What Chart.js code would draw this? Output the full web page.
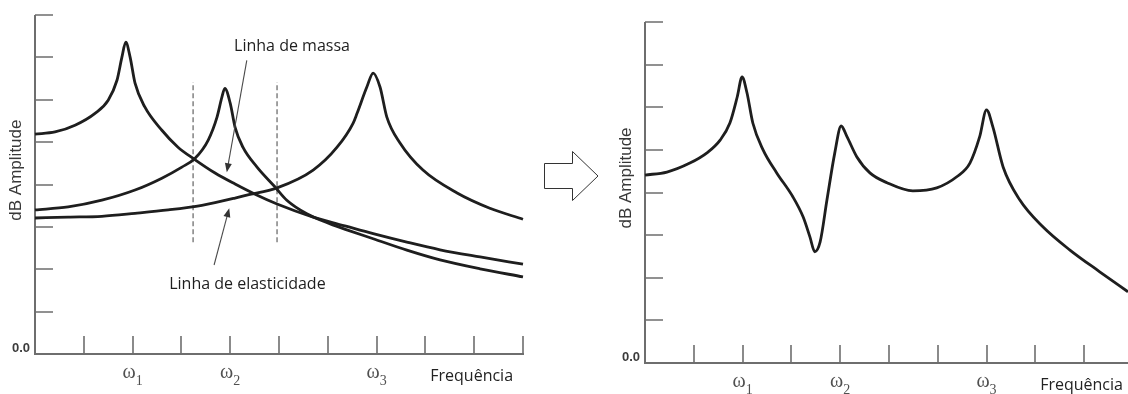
<!DOCTYPE html>
<html>
<head>
<meta charset="utf-8">
<script src="https://cdn.jsdelivr.net/npm/chart.js@4.4.1/dist/chart.umd.min.js"></script>
<style>
  html, body { margin: 0; padding: 0; background: #fff; }
  #wrap { position: relative; width: 1128px; height: 394px; overflow: hidden; }
  canvas { position: absolute; top: 0; }
</style>
</head>
<body>
<div id="wrap">
  <canvas id="left" width="605" height="394" style="left:0"></canvas>
  <canvas id="right" width="523" height="394" style="left:605px"></canvas>
</div>
<script>
// Left chart: single-mode responses
const mode1X = [0, 0.41, 0.82, 1.23, 1.50, 1.68, 1.78, 1.86, 1.95, 2.05, 2.25, 2.60, 2.93, 3.26, 3.69, 4.10, 4.51, 4.96, 5.70, 6.39, 6.93, 7.62, 8.30, 9.12, 10];
const mode1Y = [5.19, 5.24, 5.40, 5.68, 5.99, 6.46, 7.00, 7.36, 7.00, 6.39, 5.83, 5.28, 4.88, 4.60, 4.27, 4.01, 3.77, 3.54, 3.23, 3.01, 2.84, 2.64, 2.46, 2.29, 2.12];

const mode2X = [0, 0.68, 1.37, 2.05, 2.60, 3.01, 3.28, 3.55, 3.73, 3.83, 3.89, 4.00, 4.10, 4.26, 4.55, 4.92, 5.16, 5.57, 6.05, 6.39, 6.93, 7.62, 8.30, 9.12, 10];
const mode2Y = [3.40, 3.47, 3.63, 3.87, 4.15, 4.41, 4.62, 5.05, 5.59, 6.06, 6.27, 5.92, 5.35, 4.88, 4.41, 3.94, 3.63, 3.31, 3.07, 2.93, 2.72, 2.45, 2.22, 2.01, 1.82];

const mode3X = [0, 0.68, 1.37, 2.05, 2.73, 3.42, 4.10, 4.34, 4.96, 5.70, 6.19, 6.52, 6.60, 6.80, 6.93, 7.07, 7.21, 7.48, 7.95, 8.65, 9.32, 10];
const mode3Y = [3.21, 3.23, 3.25, 3.32, 3.40, 3.51, 3.68, 3.75, 3.92, 4.34, 4.88, 5.45, 5.68, 6.30, 6.63, 6.30, 5.59, 4.98, 4.34, 3.80, 3.44, 3.18];

// dashed markers on the left chart
const dashX = [3.24, 4.96];
const dashY = [2.64, 6.42];

// Right chart: combined response
const sumX = [0, 0.45, 0.92, 1.27, 1.54, 1.74, 1.89, 1.99, 2.09, 2.21, 2.42, 2.70, 3.03, 3.24, 3.38, 3.48, 3.59, 3.73, 3.89, 4.02, 4.14, 4.34, 4.61, 4.96, 5.49, 5.98, 6.39, 6.66, 6.86, 7.00, 7.13, 7.34, 7.68, 8.16, 8.71, 9.32, 9.90];
const sumY = [4.41, 4.48, 4.69, 4.93, 5.23, 5.63, 6.24, 6.71, 6.34, 5.63, 5.00, 4.46, 3.90, 3.43, 2.96, 2.61, 2.84, 3.83, 4.93, 5.56, 5.31, 4.84, 4.46, 4.23, 4.04, 4.11, 4.37, 4.69, 5.31, 5.94, 5.54, 4.60, 3.83, 3.19, 2.65, 2.14, 1.67];

// axis labels
const omegaTicks = [2, 4, 7];
const omegaSubs = ['1', '2', '3'];
const zeroLabel = '0.0';
const xTitle = 'Frequência';
const yTitle = 'dB Amplitude';

const curveColor = '#1e1e1e';
const axisColor = '#6e6e6e';

function toPoints(xs, ys) {
  return xs.map((x, i) => ({ x: x, y: ys[i] }));
}

function curve(xs, ys) {
  return {
    data: toPoints(xs, ys),
    borderColor: curveColor,
    borderWidth: 2.8,
    pointRadius: 0,
    cubicInterpolationMode: 'monotone',
    clip: 6
  };
}

// Draws the axes with inward ticks, "0.0", omega labels and titles
function axesPlugin(xTickCount) {
  return {
    id: 'axes',
    beforeDatasetsDraw(chart) {
      const { ctx, chartArea: a, scales: { x, y } } = chart;
      ctx.save();
      ctx.strokeStyle = axisColor;
      ctx.lineWidth = 2;
      ctx.beginPath();
      ctx.moveTo(a.left, a.top);
      ctx.lineTo(a.left, a.bottom);
      ctx.lineTo(a.right + 1, a.bottom);
      ctx.stroke();

      ctx.lineWidth = 1.6;
      ctx.beginPath();
      for (let v = 1; v <= 8; v++) {
        const py = Math.round(y.getPixelForValue(v));
        ctx.moveTo(a.left, py);
        ctx.lineTo(a.left + 18, py);
      }
      for (let v = 1; v <= xTickCount; v++) {
        const px = Math.round(x.getPixelForValue(v));
        ctx.moveTo(px, a.bottom);
        ctx.lineTo(px, a.bottom - 18);
      }
      ctx.stroke();

      // 0.0 label
      ctx.fillStyle = '#3c3c3c';
      ctx.font = 'bold 13px "Liberation Sans", Arial, sans-serif';
      ctx.textAlign = 'right';
      ctx.textBaseline = 'middle';
      ctx.fillText(zeroLabel, a.left - 5, a.bottom - 6);

      // omega labels
      const big = '20px "Liberation Serif", "DejaVu Serif", serif';
      const small = '14px "Liberation Serif", "DejaVu Serif", serif';
      omegaTicks.forEach((t, i) => {
        const px = x.getPixelForValue(t);
        const py = a.bottom + 22;
        ctx.fillStyle = '#505050';
        ctx.textAlign = 'left';
        ctx.textBaseline = 'middle';
        ctx.font = big;
        const w = ctx.measureText('ω').width;
        ctx.font = small;
        const sw = ctx.measureText(omegaSubs[i]).width;
        const start = px - (w + sw) / 2;
        ctx.font = big;
        ctx.fillText('ω', start, py - 3);
        ctx.font = small;
        ctx.fillText(omegaSubs[i], start + w, py + 5);
      });

      // x title
      ctx.fillStyle = '#222';
      ctx.font = '16px "Open Sans", sans-serif';
      ctx.textAlign = 'left';
      ctx.textBaseline = 'middle';
      ctx.fillText(xTitle, x.getPixelForValue(8.1), a.bottom + 22);

      // y title
      ctx.save();
      ctx.translate(a.left - 19, y.getPixelForValue(4.34));
      ctx.rotate(-Math.PI / 2);
      ctx.fillStyle = '#383838';
      ctx.font = '17px "Liberation Sans", Arial, sans-serif';
      ctx.textAlign = 'center';
      ctx.textBaseline = 'middle';
      ctx.fillText(yTitle, 0, 0);
      ctx.restore();

      ctx.restore();
    }
  };
}

function drawArrow(ctx, x0, y0, x1, y1) {
  const ang = Math.atan2(y1 - y0, x1 - x0);
  const len = 9, half = 3.5;
  ctx.beginPath();
  ctx.moveTo(x0, y0);
  ctx.lineTo(x1 - Math.cos(ang) * len * 0.8, y1 - Math.sin(ang) * len * 0.8);
  ctx.stroke();
  ctx.beginPath();
  ctx.moveTo(x1, y1);
  ctx.lineTo(x1 - Math.cos(ang) * len + Math.sin(ang) * half, y1 - Math.sin(ang) * len - Math.cos(ang) * half);
  ctx.lineTo(x1 - Math.cos(ang) * len - Math.sin(ang) * half, y1 - Math.sin(ang) * len + Math.cos(ang) * half);
  ctx.closePath();
  ctx.fill();
}

// Labels + arrows on the left chart, and the hollow arrow between the charts
const notesPlugin = {
  id: 'notes',
  afterDatasetsDraw(chart) {
    const { ctx, scales: { x, y } } = chart;
    ctx.save();
    ctx.fillStyle = '#1e1e1e';
    ctx.font = '16px "Open Sans", sans-serif';
    ctx.textAlign = 'left';
    ctx.textBaseline = 'middle';
    ctx.fillText('Linha de massa', x.getPixelForValue(4.08), y.getPixelForValue(7.26));
    ctx.fillText('Linha de elasticidade', x.getPixelForValue(2.75), y.getPixelForValue(1.65));

    ctx.strokeStyle = '#4a4a4a';
    ctx.fillStyle = '#333';
    ctx.lineWidth = 1.1;
    drawArrow(ctx, x.getPixelForValue(4.34), y.getPixelForValue(6.93), x.getPixelForValue(3.93), y.getPixelForValue(4.29));
    drawArrow(ctx, x.getPixelForValue(3.67), y.getPixelForValue(2.10), x.getPixelForValue(3.98), y.getPixelForValue(3.44));

    // block arrow
    ctx.beginPath();
    ctx.moveTo(544.5, 163.5);
    ctx.lineTo(572.5, 163.5);
    ctx.lineTo(572.5, 151.5);
    ctx.lineTo(598, 176);
    ctx.lineTo(572.5, 200.5);
    ctx.lineTo(572.5, 188.5);
    ctx.lineTo(544.5, 188.5);
    ctx.closePath();
    ctx.fillStyle = '#fff';
    ctx.fill();
    ctx.strokeStyle = '#333';
    ctx.lineWidth = 1;
    ctx.stroke();
    ctx.restore();
  }
};

function baseOptions(xMax, pad) {
  return {
    responsive: false,
    animation: false,
    layout: { padding: pad },
    plugins: { legend: { display: false }, tooltip: { enabled: false } },
    scales: {
      x: { type: 'linear', min: 0, max: xMax, display: false },
      y: { type: 'linear', min: 0, max: 8, display: false }
    }
  };
}

const dashLines = dashX.map(dx => ({
  data: toPoints([dx, dx], dashY),
  borderColor: '#8a8a8a',
  borderWidth: 1.6,
  borderDash: [5, 3],
  pointRadius: 0
}));

new Chart(document.getElementById('left').getContext('2d'), {
  type: 'line',
  data: {
    datasets: [curve(mode1X, mode1Y), curve(mode2X, mode2Y), curve(mode3X, mode3Y)].concat(dashLines)
  },
  options: baseOptions(10, { left: 35, top: 15, right: 82, bottom: 40 }),
  plugins: [axesPlugin(10), notesPlugin]
});

new Chart(document.getElementById('right').getContext('2d'), {
  type: 'line',
  data: { datasets: [curve(sumX, sumY)] },
  options: baseOptions(9.9, { left: 40, top: 22, right: 0, bottom: 31 }),
  plugins: [axesPlugin(9)]
});
</script>
</body>
</html>
